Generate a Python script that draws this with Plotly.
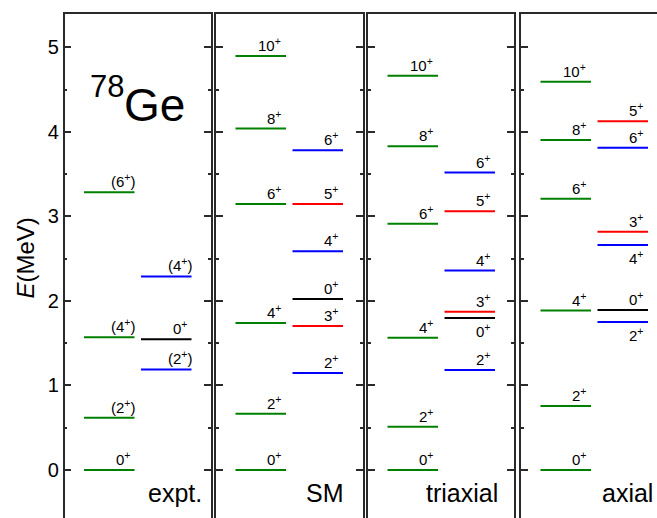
import plotly.graph_objects as go

W, H = 657, 518

# ---------------- level energies (MeV) and spin labels ----------------
# ground-state band (left column of every panel)
expt_gsb_E = [0.0, 0.619, 1.570, 3.286]
expt_gsb_J = ["0+", "(2+)", "(4+)", "(6+)"]
sm_gsb_E = [0.0, 0.666, 1.740, 3.148, 4.040, 4.900]
sm_gsb_J = ["0+", "2+", "4+", "6+", "8+", "10+"]
tri_gsb_E = [0.0, 0.513, 1.566, 2.915, 3.830, 4.666]
tri_gsb_J = ["0+", "2+", "4+", "6+", "8+", "10+"]
ax_gsb_E = [0.0, 0.757, 1.886, 3.210, 3.905, 4.595]
ax_gsb_J = ["0+", "2+", "4+", "6+", "8+", "10+"]

# gamma band and excited 0+ (right column); kind: even / odd / zero
expt_side_E = [1.190, 1.547, 2.290]
expt_side_J = ["(2+)", "0+", "(4+)"]
expt_side_kind = ["even", "zero", "even"]
sm_side_E = [1.148, 1.704, 2.024, 2.588, 3.148, 3.783]
sm_side_J = ["2+", "3+", "0+", "4+", "5+", "6+"]
sm_side_kind = ["even", "odd", "zero", "even", "odd", "even"]
tri_side_E = [1.183, 1.800, 1.873, 2.360, 3.061, 3.520]
tri_side_J = ["2+", "0+", "3+", "4+", "5+", "6+"]
tri_side_kind = ["even", "zero", "odd", "even", "odd", "even"]
ax_side_E = [1.751, 1.893, 2.663, 2.820, 3.814, 4.127]
ax_side_J = ["2+", "0+", "4+", "3+", "6+", "5+"]
ax_side_kind = ["even", "zero", "even", "odd", "even", "odd"]

panel_names = ["expt.", "SM", "triaxial", "axial"]

# labels written underneath their level instead of above it
labels_below = {("triaxial", "0+"), ("axial", "2+"), ("axial", "4+")}

# ---------------- styling ----------------
FONT = "Arial, Liberation Sans, sans-serif"
COL = {"gsb": "#008000", "even": "#0000ff", "odd": "#ff0000", "zero": "#000000"}
FRAME = "#2a2a2a"

# panel extents in pixels (left, right); last one runs off the page
panel_px = [(64.5, 210.5), (216, 363), (368, 514), (521, 657)]
LEFT_COL = (19.5, 70.0)
RIGHT_COL = (76.5, 127.0)
Y_RANGE = [-0.568, 5.396]
Y_TOP = 1 - 14 / H
MINOR_TICKS = [0.5, 1.5, 2.5, 3.5, 4.5]

panels = [
    (expt_gsb_E, expt_gsb_J, expt_side_E, expt_side_J, expt_side_kind),
    (sm_gsb_E, sm_gsb_J, sm_side_E, sm_side_J, sm_side_kind),
    (tri_gsb_E, tri_gsb_J, tri_side_E, tri_side_J, tri_side_kind),
    (ax_gsb_E, ax_gsb_J, ax_side_E, ax_side_J, ax_side_kind),
]


def spin_html(j):
    return j.replace("+", "<sup>+</sup>")


fig = go.Figure()
annotations = []

for i, (name, (gE, gJ, sE, sJ, sK)) in enumerate(zip(panel_names, panels)):
    n = "" if i == 0 else str(i + 1)
    xr, yr = "x" + n, "y" + n

    # group segments by colour
    groups = {}
    for e in gE:
        groups.setdefault("gsb", []).append((LEFT_COL, e))
    for e, k in zip(sE, sK):
        groups.setdefault(k, []).append((RIGHT_COL, e))
    for k, segs in groups.items():
        xs, ys = [], []
        for (x0, x1), e in segs:
            xs += [x0, x1, None]
            ys += [e, e, None]
        fig.add_trace(go.Scatter(x=xs, y=ys, mode="lines", xaxis=xr, yaxis=yr,
                                 line=dict(color=COL[k], width=2),
                                 hoverinfo="skip", showlegend=False))

    # spin labels
    for col, Es, Js in ((LEFT_COL, gE, gJ), (RIGHT_COL, sE, sJ)):
        for e, j in zip(Es, Js):
            below = (name, j) in labels_below and col is RIGHT_COL
            if i == 0:
                x, xa = (col[0] + col[1]) / 2 + 13.5, "center"
            else:
                x, xa = col[1] - 3.5, "right"
            annotations.append(dict(
                x=x, y=e, xref=xr, yref=yr, text=spin_html(j), showarrow=False,
                xanchor=xa, yanchor="top" if below else "bottom",
                yshift=-1 if below else 0, borderpad=1,
                font=dict(family=FONT, size=15, color="#000")))

    l, r = panel_px[i]
    fig.layout["xaxis" + n] = dict(
        domain=[l / W, r / W], range=[0, r - l], anchor=yr, side="top",
        showline=True, linecolor=FRAME, linewidth=1.5, ticks="",
        showticklabels=False, showgrid=False, zeroline=False, fixedrange=True)
    fig.layout["yaxis" + n] = dict(
        domain=[0, Y_TOP], range=Y_RANGE, anchor=xr,
        showline=True, linecolor=FRAME, linewidth=1.5,
        mirror="ticks" if i < 3 else False,
        ticks="inside", ticklen=7, tickwidth=1.5, tickcolor=FRAME,
        tick0=0, dtick=1,
        minor=dict(ticks="inside", ticklen=3, tickwidth=1.5, tickcolor=FRAME,
                   tickmode="array", tickvals=MINOR_TICKS),
        showticklabels=(i == 0), tickfont=dict(family=FONT, size=20, color="#000"),
        showgrid=False, zeroline=False, fixedrange=True)

# panel names, bottom right of each panel
name_right_px = [203, 345, 499, 654]
for name, xp in zip(panel_names, name_right_px):
    annotations.append(dict(x=xp / W, y=1 - 493 / H, xref="paper", yref="paper",
                            text=name, showarrow=False, xanchor="right",
                            yanchor="middle", borderpad=0,
                            font=dict(family=FONT, size=25, color="#000")))

# nucleus label
annotations.append(dict(x=106.5 / W, y=1 - 86 / H, xref="paper", yref="paper",
                        text="78", showarrow=False, xanchor="center", yanchor="middle",
                        borderpad=0, font=dict(family=FONT, size=31, color="#000")))
annotations.append(dict(x=154.5 / W, y=1 - 105.5 / H, xref="paper", yref="paper",
                        text="Ge", showarrow=False, xanchor="center", yanchor="middle",
                        borderpad=0, font=dict(family=FONT, size=46, color="#000")))

# energy axis title
annotations.append(dict(x=24.5 / W, y=1 - 258 / H, xref="paper", yref="paper",
                        text="<i>E</i>(MeV)", showarrow=False, textangle=-90,
                        xanchor="center", yanchor="middle", borderpad=0,
                        font=dict(family=FONT, size=24, color="#000")))

fig.update_layout(width=W, height=H, margin=dict(l=0, r=0, t=0, b=0),
                  paper_bgcolor="white", plot_bgcolor="white",
                  annotations=annotations, showlegend=False)

fig.write_html("out.html", config={"displayModeBar": False})
